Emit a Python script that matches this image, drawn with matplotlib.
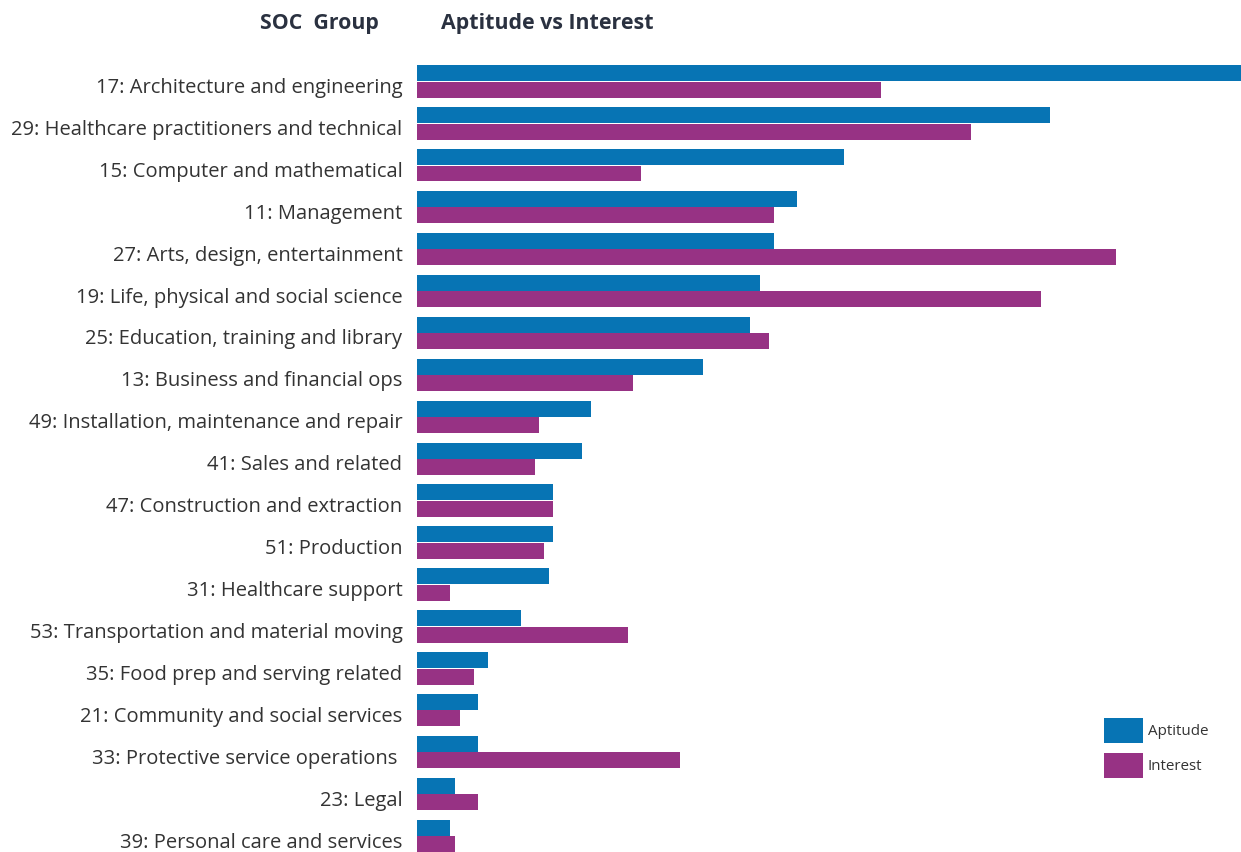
import matplotlib.pyplot as plt
import matplotlib.transforms as mtransforms
import numpy as np

groups = [
    "17: Architecture and engineering",
    "29: Healthcare practitioners and technical",
    "15: Computer and mathematical",
    "11: Management",
    "27: Arts, design, entertainment",
    "19: Life, physical and social science",
    "25: Education, training and library",
    "13: Business and financial ops",
    "49: Installation, maintenance and repair",
    "41: Sales and related",
    "47: Construction and extraction",
    "51: Production",
    "31: Healthcare support",
    "53: Transportation and material moving",
    "35: Food prep and serving related",
    "21: Community and social services",
    "33: Protective service operations ",
    "23: Legal",
    "39: Personal care and services",
]
aptitude = [824, 633, 427, 380, 357, 343, 333, 286, 174, 165, 136, 136, 132, 104, 71, 61, 61, 38, 33]
interest = [464, 554, 224, 357, 699, 624, 352, 216, 122, 118, 136, 127, 33, 211, 57, 43, 263, 61, 38]

blue = "#0774b4"
purple = "#973284"
text_col = "#333333"

plt.rcParams['font.family'] = ['Open Sans', 'DejaVu Sans']

fig = plt.figure(figsize=(12.41, 8.52), dpi=100)
ax = fig.add_axes([417 / 1241, 0, 1 - 417 / 1241, 1 - 65 / 852])

y = np.arange(len(groups))
h = 16 / 42
ax.barh(y - h / 2 - 0.005, aptitude, height=h, color=blue, label="Aptitude")
ax.barh(y + h / 2 + 0.005, interest, height=h, color=purple, label="Interest")

ax.set_xlim(0, max(aptitude))
ax.set_ylim(18 + 16 / 42, -16.5 / 42)
ax.set_yticks(y)
ax.set_yticklabels(groups, fontsize=14.5, color=text_col)
ax.tick_params(axis='y', length=0, pad=10.5)
ax.set_xticks([])
for s in ax.spines.values():
    s.set_visible(False)

# labels sit a few pixels below the group centre
shift = mtransforms.ScaledTranslation(0, -4 / 100, fig.dpi_scale_trans)
for lab in ax.get_yticklabels():
    lab.set_transform(lab.get_transform() + shift)

fig.text(379 / 1241, 1 - 23 / 852, "SOC  Group", ha='right', va='center',
         fontsize=15.3, fontweight='bold', color="#2a3140")
fig.text(441 / 1241, 1 - 23 / 852, "Aptitude vs Interest", ha='left', va='center',
         fontsize=15.4, fontweight='bold', color="#2a3140")

fig.legend(loc='upper left', bbox_to_anchor=(1104 / 1241, 1 - 718 / 852),
           frameon=False, borderpad=0, borderaxespad=0, fontsize=10.9,
           handlelength=2.58, handleheight=2.17, handletextpad=0.3,
           labelspacing=0.66, labelcolor=text_col)

fig.savefig("out.png", dpi=100)
